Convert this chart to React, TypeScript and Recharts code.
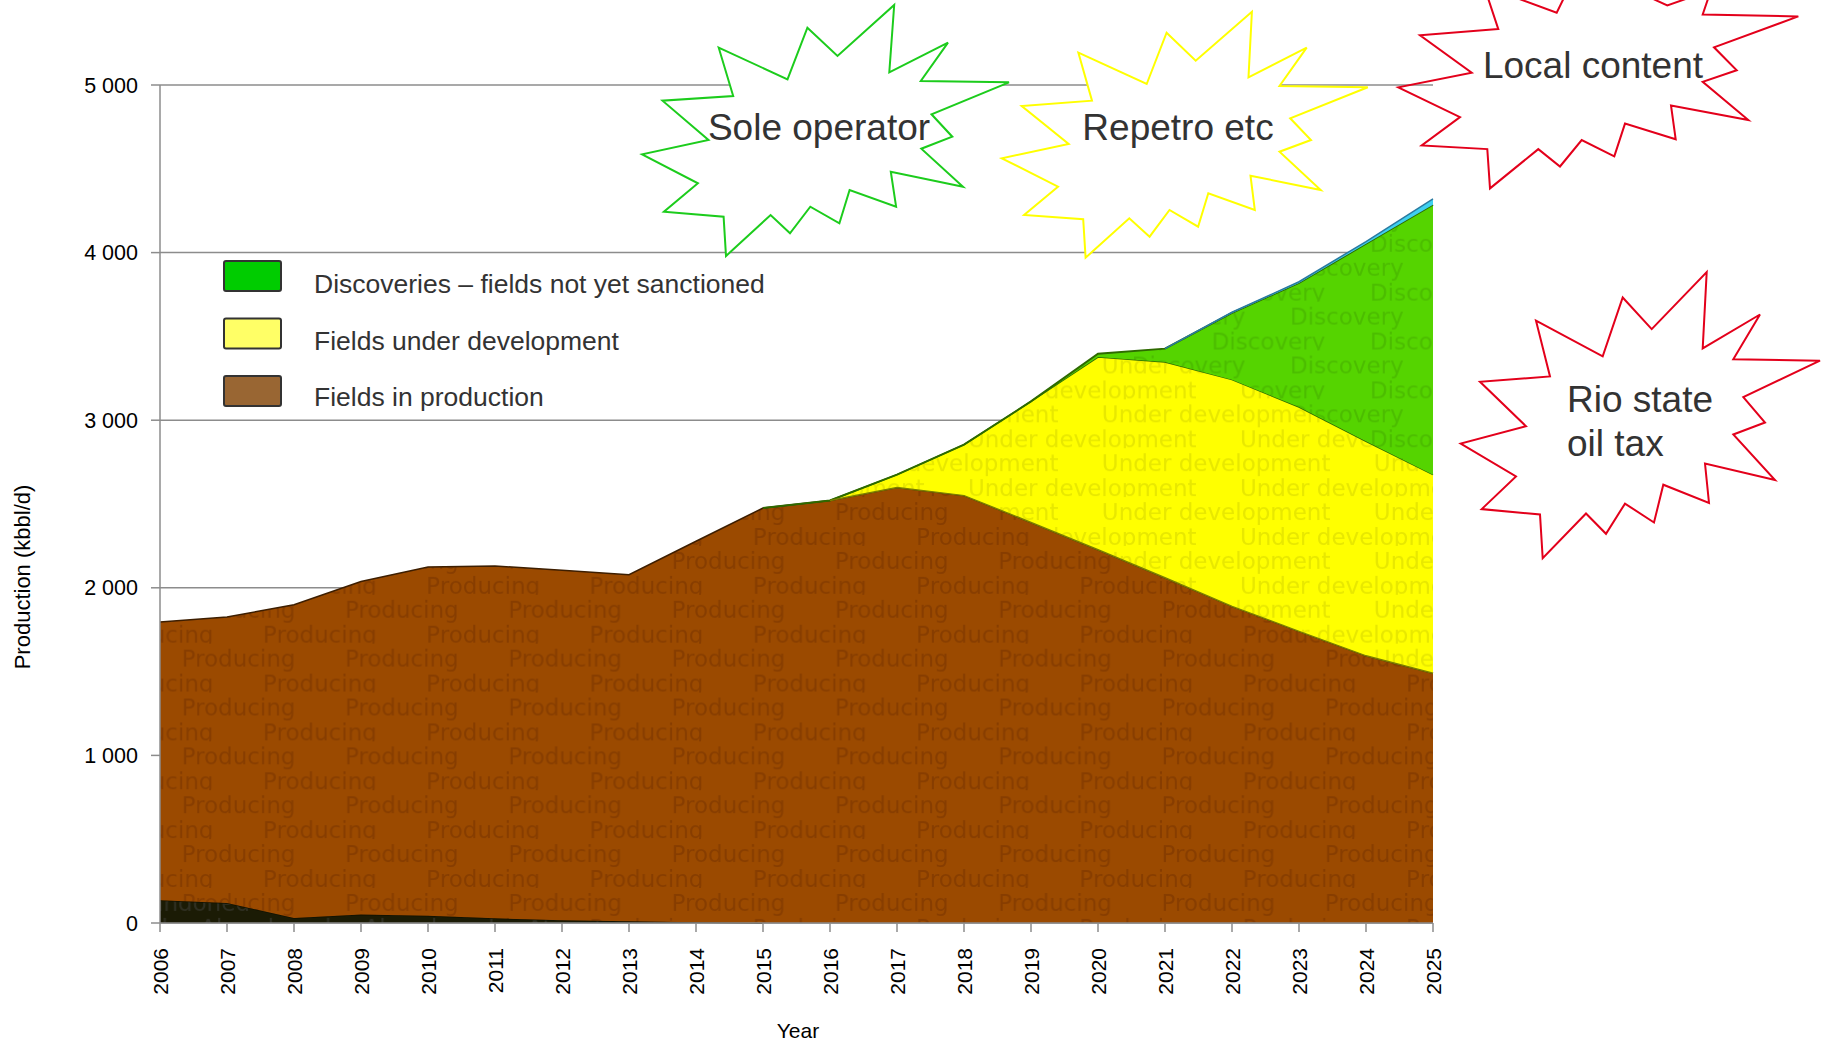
import { ComposedChart, Area, Line, XAxis, YAxis, CartesianGrid } from 'recharts'

const years = [
  '2006', '2007', '2008', '2009', '2010', '2011', '2012', '2013', '2014', '2015',
  '2016', '2017', '2018', '2019', '2020', '2021', '2022', '2023', '2024', '2025',
]

// kbbl/d per category, stacked bottom to top
const abandoned = [135, 119, 30, 50, 44, 28, 16, 10, 4, 0, null, null, null, null, null, null, null, null, null, null]
const producing = [1661, 1707, 1869, 1988, 2080, 2102, 2089, 2068, 2274, 2476, 2521, 2599, 2550, 2390, 2227, 2060, 1889, 1740, 1594, 1490]
const underDevelopment = [null, null, null, null, null, null, null, null, null, null, 0, 76, 304, 722, 1150, 1287, 1353, 1339, 1280, 1185]
const discoveries = [null, null, null, null, null, null, null, null, null, 0, 0, 0, 0, 0, 20, 80, 398, 740, 1179, 1611]
const undiscovered = [null, null, null, null, null, null, null, null, null, null, null, null, null, null, null, 0, 4, 7, 13, 34]

const yTicks = [0, 1000, 2000, 3000, 4000, 5000]

const legendItems = [
  { label: 'Discoveries – fields not yet sanctioned', color: '#00cc00' },
  { label: 'Fields under development', color: '#ffff66' },
  { label: 'Fields in production', color: '#996633' },
]

// callout bursts drawn over the chart
const soleOperatorStar = [
  [718.7, 47.7], [787.5, 79.3], [807.4, 27.7], [837.5, 56], [894.2, 5], [889.3, 72.3], [948, 42.7],
  [920.8, 81], [1009, 82.3], [931.5, 114.3], [952.3, 136.7], [921.3, 148.7], [963, 186.7],
  [890.8, 171.7], [896.1, 206.7], [849.6, 190], [839.4, 223.3], [810.3, 206.7], [790, 233.3],
  [770.6, 215], [726, 256], [723.6, 216.7], [663.9, 211.7], [697.9, 183.3], [642.1, 154.3],
  [708.5, 140], [662.5, 100.7], [733.2, 96],
]
const repetroStar = [
  [1078.4, 52.7], [1146.7, 84], [1166.6, 32.7], [1195.7, 60.7], [1251.9, 11.7], [1248.5, 77.3],
  [1306.7, 47.7], [1279.5, 86], [1367.8, 87.3], [1290.2, 118.3], [1311, 140], [1279.5, 151.7],
  [1320.7, 190], [1250.5, 175.7], [1254.8, 210], [1208.3, 193.3], [1198.1, 226.7], [1169.5, 210],
  [1149.6, 236.7], [1129.3, 218.3], [1085.6, 257.7], [1083.2, 219.3], [1024.1, 215], [1058, 186.7],
  [1001.8, 158.3], [1068.7, 144], [1021.7, 106], [1092, 100.7],
]
const localContentStar = [
  [1498.3, 29.1], [1420, 35.3], [1471.7, 72.7], [1398.3, 87.3], [1460, 117.1], [1421.7, 145.5],
  [1487.3, 149.1], [1490, 188.4], [1538.3, 149.1], [1560, 166.5], [1581.7, 140], [1614.3, 156.4],
  [1625, 123.6], [1675.7, 139.3], [1671, 105.5], [1748.3, 120], [1702.7, 81.8], [1736.7, 70.2],
  [1714, 47.3], [1798.3, 16.4], [1702.7, 14.5], [1711, -10], [1667.3, 5.5], [1580, -35],
  [1556.7, 12.7], [1484, -14],
]
const rioTaxStar = [
  [1536, 320.7], [1602.7, 356.4], [1622.7, 297.5], [1651.7, 329.1], [1706.7, 272], [1702.7, 348.4],
  [1760, 314.5], [1733.3, 359.3], [1820, 360.7], [1743.3, 397.1], [1765, 422.5], [1733.3, 434.5],
  [1775, 480], [1705, 463.6], [1709, 502.9], [1663.3, 484.7], [1654, 522.5], [1625, 503.6],
  [1606, 533.8], [1586, 513.5], [1542.7, 558.2], [1540, 514.5], [1481.7, 509.1], [1516, 476.4],
  [1460.7, 443.6], [1526, 426.2], [1480, 381.8], [1550, 376.4],
]

const data = years.map((year, i) => ({
  year,
  abandoned: abandoned[i],
  producing: producing[i],
  underDevelopment: underDevelopment[i],
  discoveries: discoveries[i],
  undiscovered: undiscovered[i],
}))

type Row = (typeof data)[number]

// outline along the bottom of the development layer
const developmentBase = (d: Row) =>
  d.underDevelopment == null ? null : (d.abandoned ?? 0) + d.producing

const FONT = '"Liberation Sans", Arial, Helvetica, sans-serif'
const PATTERN_FONT = '"DejaVu Sans", Verdana, sans-serif'
const AXIS_GREY = '#8c8c8c'
const ROW = 24.43
const ROW_ORIGIN = 8.5

interface TextPatternProps {
  id: string
  width: number
  fill: string
  ink: string
  label: string
  fullX: number
  clipX: number
}

// Repeating label texture: two staggered rows per tile, the lower row
// sits on the tile edge so its descenders get cut off.
function TextPattern({ id, width, fill, ink, label, fullX, clipX }: TextPatternProps) {
  return (
    <pattern id={id} patternUnits="userSpaceOnUse" x={0} y={ROW_ORIGIN} width={width} height={ROW * 2}>
      <rect width={width} height={ROW * 2} fill={fill} />
      <g fill={ink} fontFamily={PATTERN_FONT} fontSize={23}>
        {[fullX - width, fullX].map((x) => (
          <text key={'f' + x} x={x} y={ROW - 1}>{label}</text>
        ))}
        {[clipX - width, clipX].map((x) => (
          <text key={'c' + x} x={x} y={ROW * 2 - 1}>{label}</text>
        ))}
      </g>
    </pattern>
  )
}

function YearTick({ x, y, payload }: { x?: number; y?: number; payload?: { value: string } }) {
  return (
    <text
      x={x}
      y={y}
      transform={`rotate(-90, ${x}, ${y})`}
      textAnchor="end"
      dy="0.36em"
      fontSize={21}
      fontFamily={FONT}
      fill="#000"
    >
      {payload?.value}
    </text>
  )
}

const formatThousands = (v: number) => (v === 0 ? '0' : `${v / 1000} 000`)

const toPoints = (pts: number[][]) => pts.map((p) => p.join(',')).join(' ')

export default function App() {
  return (
    <div style={{ position: 'absolute', left: 0, top: 0, width: 1821, height: 1044, background: '#fff' }}>
      <svg width={0} height={0} style={{ position: 'absolute' }}>
        <defs>
          <TextPattern id="pat-abandoned" width={163.3} fill="#1b1b05" ink="#2f2f22" label="Abandoned" fullX={119} clipX={37} />
          <TextPattern id="pat-producing" width={163.3} fill="#9b4a00" ink="#873d00" label="Producing" fullX={18.3} clipX={99.7} />
          <TextPattern id="pat-underdev" width={272} fill="#ffff00" ink="#e8e800" label="Under development" fullX={13.8} clipX={151.9} />
          <TextPattern id="pat-discovery" width={158.3} fill="#55d400" ink="#4bbd00" label="Discovery" fullX={23.6} clipX={103.6} />
        </defs>
      </svg>

      <ComposedChart width={1821} height={1044} data={data} margin={{ top: 85, right: 388, left: 0, bottom: 0 }}>
        <CartesianGrid vertical={false} stroke={AXIS_GREY} strokeWidth={1.5} />
        <XAxis
          dataKey="year"
          interval={0}
          height={121}
          tickSize={9}
          tickMargin={16}
          stroke={AXIS_GREY}
          strokeWidth={1.5}
          tick={<YearTick />}
        />
        <YAxis
          width={160}
          domain={[0, 5000]}
          ticks={yTicks}
          interval={0}
          tickSize={9}
          tickMargin={13}
          stroke={AXIS_GREY}
          strokeWidth={1.5}
          tickFormatter={formatThousands}
          tick={{ fill: '#000', fontSize: 21.5, fontFamily: FONT }}
        />
        <Area type="linear" dataKey="abandoned" stackId="s" fill="url(#pat-abandoned)" fillOpacity={1} stroke="#111100" strokeWidth={1.5} dot={false} activeDot={false} isAnimationActive={false} />
        <Area type="linear" dataKey="producing" stackId="s" fill="url(#pat-producing)" fillOpacity={1} stroke="#3d1e00" strokeWidth={1.5} dot={false} activeDot={false} isAnimationActive={false} />
        <Area type="linear" dataKey="underDevelopment" stackId="s" fill="url(#pat-underdev)" fillOpacity={1} stroke="#2e6a00" strokeWidth={1.5} dot={false} activeDot={false} isAnimationActive={false} />
        <Area type="linear" dataKey="discoveries" stackId="s" fill="url(#pat-discovery)" fillOpacity={1} stroke="#2e6a00" strokeWidth={2} dot={false} activeDot={false} isAnimationActive={false} />
        <Area type="linear" dataKey="undiscovered" stackId="s" fill="#3fd0ef" fillOpacity={1} stroke="#2a7aa0" strokeWidth={1.5} dot={false} activeDot={false} isAnimationActive={false} />
        <Line type="linear" dataKey={developmentBase} stroke="#7d7d00" strokeWidth={1.5} dot={false} activeDot={false} isAnimationActive={false} />
      </ComposedChart>

      <svg width={1821} height={1044} style={{ position: 'absolute', left: 0, top: 0, pointerEvents: 'none' }} fontFamily={FONT}>
        <text x={22} y={577} transform="rotate(-90, 22, 577)" textAnchor="middle" dy="0.35em" fontSize={22} fill="#000">
          Production (kbbl/d)
        </text>
        <text x={798} y={1031} textAnchor="middle" dy="0.35em" fontSize={21} fill="#000">
          Year
        </text>

        {legendItems.map((item, i) => (
          <g key={item.label}>
            <rect x={224} y={261 + i * 57.5} width={57} height={30} rx={2} fill={item.color} stroke="#333" strokeWidth={2} />
            <text x={314} y={293.3 + i * 56.4} fontSize={26.5} fill="#333">{item.label}</text>
          </g>
        ))}

        <polygon points={toPoints(soleOperatorStar)} fill="#fff" stroke="#1ccc1c" strokeWidth={2} />
        <polygon points={toPoints(repetroStar)} fill="#fff" stroke="#ffff00" strokeWidth={2} />
        <polygon points={toPoints(localContentStar)} fill="none" stroke="#e3001b" strokeWidth={2} />
        <polygon points={toPoints(rioTaxStar)} fill="#fff" stroke="#e3001b" strokeWidth={2} />

        <g fontSize={37} fill="#333">
          <text x={819} y={140} textAnchor="middle">Sole operator</text>
          <text x={1178} y={140} textAnchor="middle">Repetro etc</text>
          <text x={1593} y={78} textAnchor="middle">Local content</text>
          <text x={1567} y={412}>Rio state</text>
          <text x={1567} y={456}>oil tax</text>
        </g>
      </svg>
    </div>
  )
}
